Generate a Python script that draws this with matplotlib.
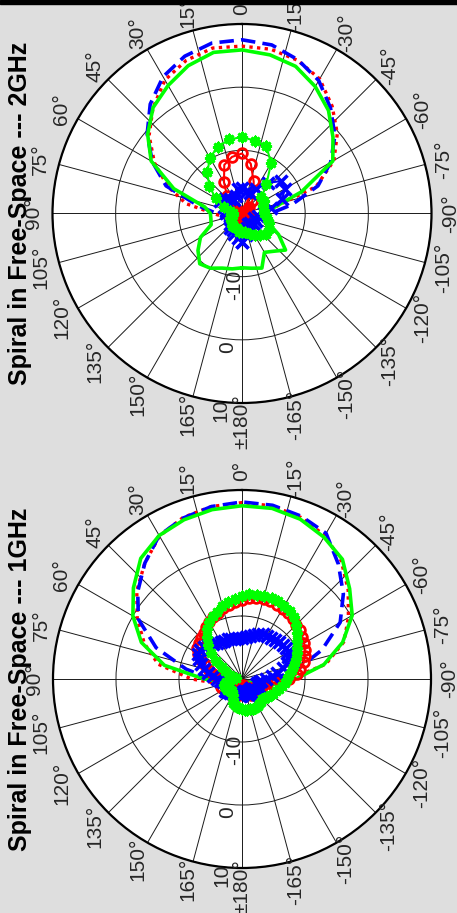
import numpy as np
import matplotlib.pyplot as plt
from matplotlib.patches import Rectangle

plt.rcParams['font.family'] = ['Liberation Sans', 'DejaVu Sans']

# angles in degrees, 0 at top, counterclockwise
ang10 = np.arange(-180, 181, 10)
ang5 = np.arange(-180, 181, 5)

# ---- 1 GHz (dB) ----
r1_dot = [-19, -19, -19.5, -19, -18.5, -19, -19, -18, -16, -12.5,
          -6.5, -2.8, -0.5, 2.0, 4.5, 6.3, 7.3, 7.9, 8.0, 7.8,
          7.3, 6.2, 4.0, 1.8, -0.8, -3.5, -6.5, -12, -16, -18,
          -19, -19.5, -19, -18.5, -19, -19.5, -19]
b1_dash = [-19, -19.5, -19, -18.5, -19, -19.5, -19, -18.5, -17, -15,
           -11, -6.5, -2, 1.0, 3.8, 6.7, 7.5, 8.0, 8.1, 7.8,
           7.2, 6.3, 4.0, 1.6, -1.0, -5.5, -11, -15, -17.5, -18.5,
           -19, -19, -19.5, -19, -18.5, -19, -19]
g1_solid = [-19, -19, -18.5, -18, -18, -18.5, -19, -18, -15, -11.5,
            -6.8, -3.0, 0.2, 2.3, 4.8, 6.0, 7.0, 7.5, 7.5, 7.3,
            6.9, 6.3, 5.0, 2.5, 0.0, -3.0, -7.5, -14, -17, -18.5,
            -19, -18.5, -18, -18, -18.5, -19, -19]

r1_o = [-18, -18.5, -19, -18.5, -18, -17.5, -17, -17.5, -18, -18, -17.5, -17,
        -16.5, -16, -16, -16.5, -16, -14, -12.5, -11.3, -10.6, -9.8, -9.4, -9.0,
        -8.6, -8.3, -8.0, -7.8, -7.5, -7.3, -7.1, -7.0, -6.9, -6.8, -6.9, -7.1,
        -7.4, -7.8, -8.1, -8.4, -8.8, -9.1, -9.5, -10.0, -10.5, -10.8, -11.0, -11.3,
        -12.0, -12.8, -13.7, -14.5, -15.3, -16, -16.5, -17, -17.5, -17, -16.5, -16.5,
        -17, -17.5, -18, -18, -18.5, -19, -18.5, -18, -18, -17.5, -17.5, -18,
        -18]
b1_x = [-17.5, -17.8, -18, -18, -17.5, -17, -17, -17.5, -18, -18, -17.5, -17,
        -16.8, -17, -17.5, -17.5, -17.2, -17, -16.2, -15.2, -14.3, -13.2, -12.4, -11.9,
        -11.5, -11.4, -11.5, -11.7, -11.9, -12.0, -12.1, -12.2, -12.4, -12.7, -13.0, -13.3,
        -13.5, -13.5, -13.5, -13.4, -13.3, -13.3, -13.3, -13.1, -12.8, -12.4, -12.1, -11.9,
        -12.0, -12.4, -13.0, -13.8, -14.6, -15.3, -16.0, -16.5, -17.0, -17.3, -17.5, -17.3,
        -17, -16.8, -16.8, -17, -17, -17.3, -17.5, -17.8, -18, -17.8, -17.5, -17.5,
        -17.5]
g1_star = [-15.2, -15, -15, -15, -15, -15, -15, -15.2, -15.3, -15.5, -15.4, -15,
           -14.8, -14.5, -14.3, -14, -13.6, -13.2, -12.9, -12.5, -12, -11.4, -10.8, -10.4,
           -10, -9.4, -8.6, -7.8, -7.2, -6.8, -6.6, -6.4, -6.3, -6.3, -6.4, -6.5,
           -6.8, -7.2, -7.6, -8.0, -8.6, -9.0, -9.6, -10.4, -11.3, -12.3, -13.5, -15,
           -16.3, -17, -18, -18.5, -19, -19, -18.5, -18, -17.5, -17.2, -17, -17,
           -17, -17, -17.2, -17.5, -17.5, -17.2, -17, -16.5, -16, -15.8, -15.5, -15.3,
           -15.2]

# ---- 2 GHz (dB) ----
r2_dot = [-19, -19.5, -19, -19, -19.5, -19, -18.5, -18, -17.5, -17,
          -15, -7.5, -3.2, -0.3, 2.2, 4.6, 5.8, 6.4, 6.5, 6.6,
          5.8, 4.4, 1.9, -0.8, -4.0, -7.5, -11, -15.5, -17, -18,
          -18.5, -19, -19, -19.5, -19, -19, -19]
b2_dash = [-19, -19, -19.5, -19, -19, -19.5, -19, -18.5, -17.5, -15.5,
           -12, -7.2, -3.8, -0.8, 1.8, 4.3, 5.9, 7.1, 7.5, 7.4,
           6.5, 5.0, 2.6, -0.4, -3.6, -7.2, -13, -16, -18, -18.5,
           -19, -19, -19.5, -19, -19, -19.5, -19]
g2_solid = [-11.4, -11.2, -10.8, -12.9, -12.2, -11, -13.3, -15.5, -17, -17,
            -15, -10, -3.4, -1.2, 1.3, 3.2, 4.8, 5.5, 5.9, 5.9,
            4.9, 3.4, 1.9, -0.5, -3.4, -8.5, -14, -15, -15, -14.8,
            -12.4, -10.9, -9.6, -10, -10.8, -11.1, -11.4]

r2_o = [-19, -19, -19.5, -19, -19, -19.5, -19, -19, -19.5, -19,
        -19, -19.5, -19, -18.5, -17.5, -16.3, -14.6, -12, -10.5, -10.9,
        -11.8, -14.3, -16.3, -18, -19, -19.5, -19, -19, -19.5, -19,
        -19, -19.5, -19, -19, -19.5, -19, -19]
b2_x = [-15.5, -16.5, -17.5, -18, -18, -17.5, -17.5, -18, -17.5, -16.5,
        -15.4, -13.2, -12.2, -12, -13.7, -15.5, -16.5, -16.5, -16, -16,
        -17, -17.5, -17, -16.5, -16, -17, -17.5, -17.5, -18, -18,
        -18, -17.5, -17, -17, -16.5, -16, -15.5]
g2_star = [-17, -17, -16.5, -16, -15.5, -15, -15, -15.5, -16, -16.5,
           -16.5, -16.5, -16, -16, -14, -10.8, -8.7, -8.3, -7.9, -8.1,
           -8.8, -9.8, -11.5, -13.2, -15.2, -17, -18, -18.5, -18.5, -18,
           -18, -18, -17.5, -17.5, -17.5, -17, -17]

verde = (0, 1, 0)
s_dot = dict(color='r', lw=2.4, dashes=(1, 1.3))
s_dash = dict(color='b', lw=2.6, dashes=(4, 2))
s_solid = dict(color=verde, lw=2.6)
s_o = dict(color='r', lw=1.5, marker='o', ms=7, mfc='none', mew=2.0)
s_x = dict(color='b', lw=1.5, marker='x', ms=8, mew=2.5)
s_star = dict(color=verde, lw=1.5, marker=(8, 2, 0), ms=8, mew=2.0)

W, H = 457, 913
fig = plt.figure(figsize=(W / 100, H / 100), dpi=100, facecolor='#dedede')
fig.patches.append(Rectangle((0, 1 - 4 / H), 1, 4 / H, transform=fig.transFigure,
                             color='black', zorder=10))
cor_txt = '#262626'


def painel(cx, cy, raio, titulo, curvas):
    rect = [(cx - raio) / W, (H - cy - raio) / H, 2 * raio / W, 2 * raio / H]
    ax = fig.add_axes(rect, projection='polar')
    ax.set_facecolor('white')
    ax.set_theta_zero_location('N')
    ax.set_theta_direction(1)
    for ang, val, estilo in curvas:
        ax.plot(np.deg2rad(ang), val, **estilo)
    ax.set_rlim(-20, 10)
    ax.set_rticks([-10, 0, 10])
    ax.set_xticks(np.deg2rad(np.arange(0, 360, 15)))
    ax.set_xticklabels([])
    ax.set_yticklabels([])
    ax.tick_params(length=0)
    ax.grid(True, color='#1a1a1a', lw=0.7)
    ax.spines['polar'].set_linewidth(1.6)

    for t in range(-165, 181, 15):
        txt = '±180°' if t == 180 else f'{t}°'
        ax.text(np.deg2rad(t), 13.0, txt, rotation=90, ha='center', va='center',
                fontsize=15, color=cor_txt, clip_on=False)
    for rv in [-10, 0, 10]:
        ax.text(np.deg2rad(174), rv + 1.3, f'{rv}', rotation=90, ha='center',
                va='center', fontsize=15, color=cor_txt, clip_on=False)

    fig.text(20 / W, 1 - cy / H, titulo, rotation=90, ha='center', va='center',
             fontsize=18, fontweight='bold', color='black')
    return ax


painel(242, 213.5, 189.5, 'Spiral in Free-Space --- 2GHz', [
    (ang10, r2_dot, s_dot), (ang10, b2_dash, s_dash), (ang10, g2_solid, s_solid),
    (ang10, r2_o, s_o), (ang10, b2_x, s_x), (ang10, g2_star, s_star)])

painel(242, 679, 189, 'Spiral in Free-Space --- 1GHz', [
    (ang10, r1_dot, s_dot), (ang10, b1_dash, s_dash), (ang10, g1_solid, s_solid),
    (ang5, r1_o, s_o), (ang5, b1_x, s_x), (ang5, g1_star, s_star)])

fig.savefig('out.png', dpi=100, facecolor=fig.get_facecolor())
